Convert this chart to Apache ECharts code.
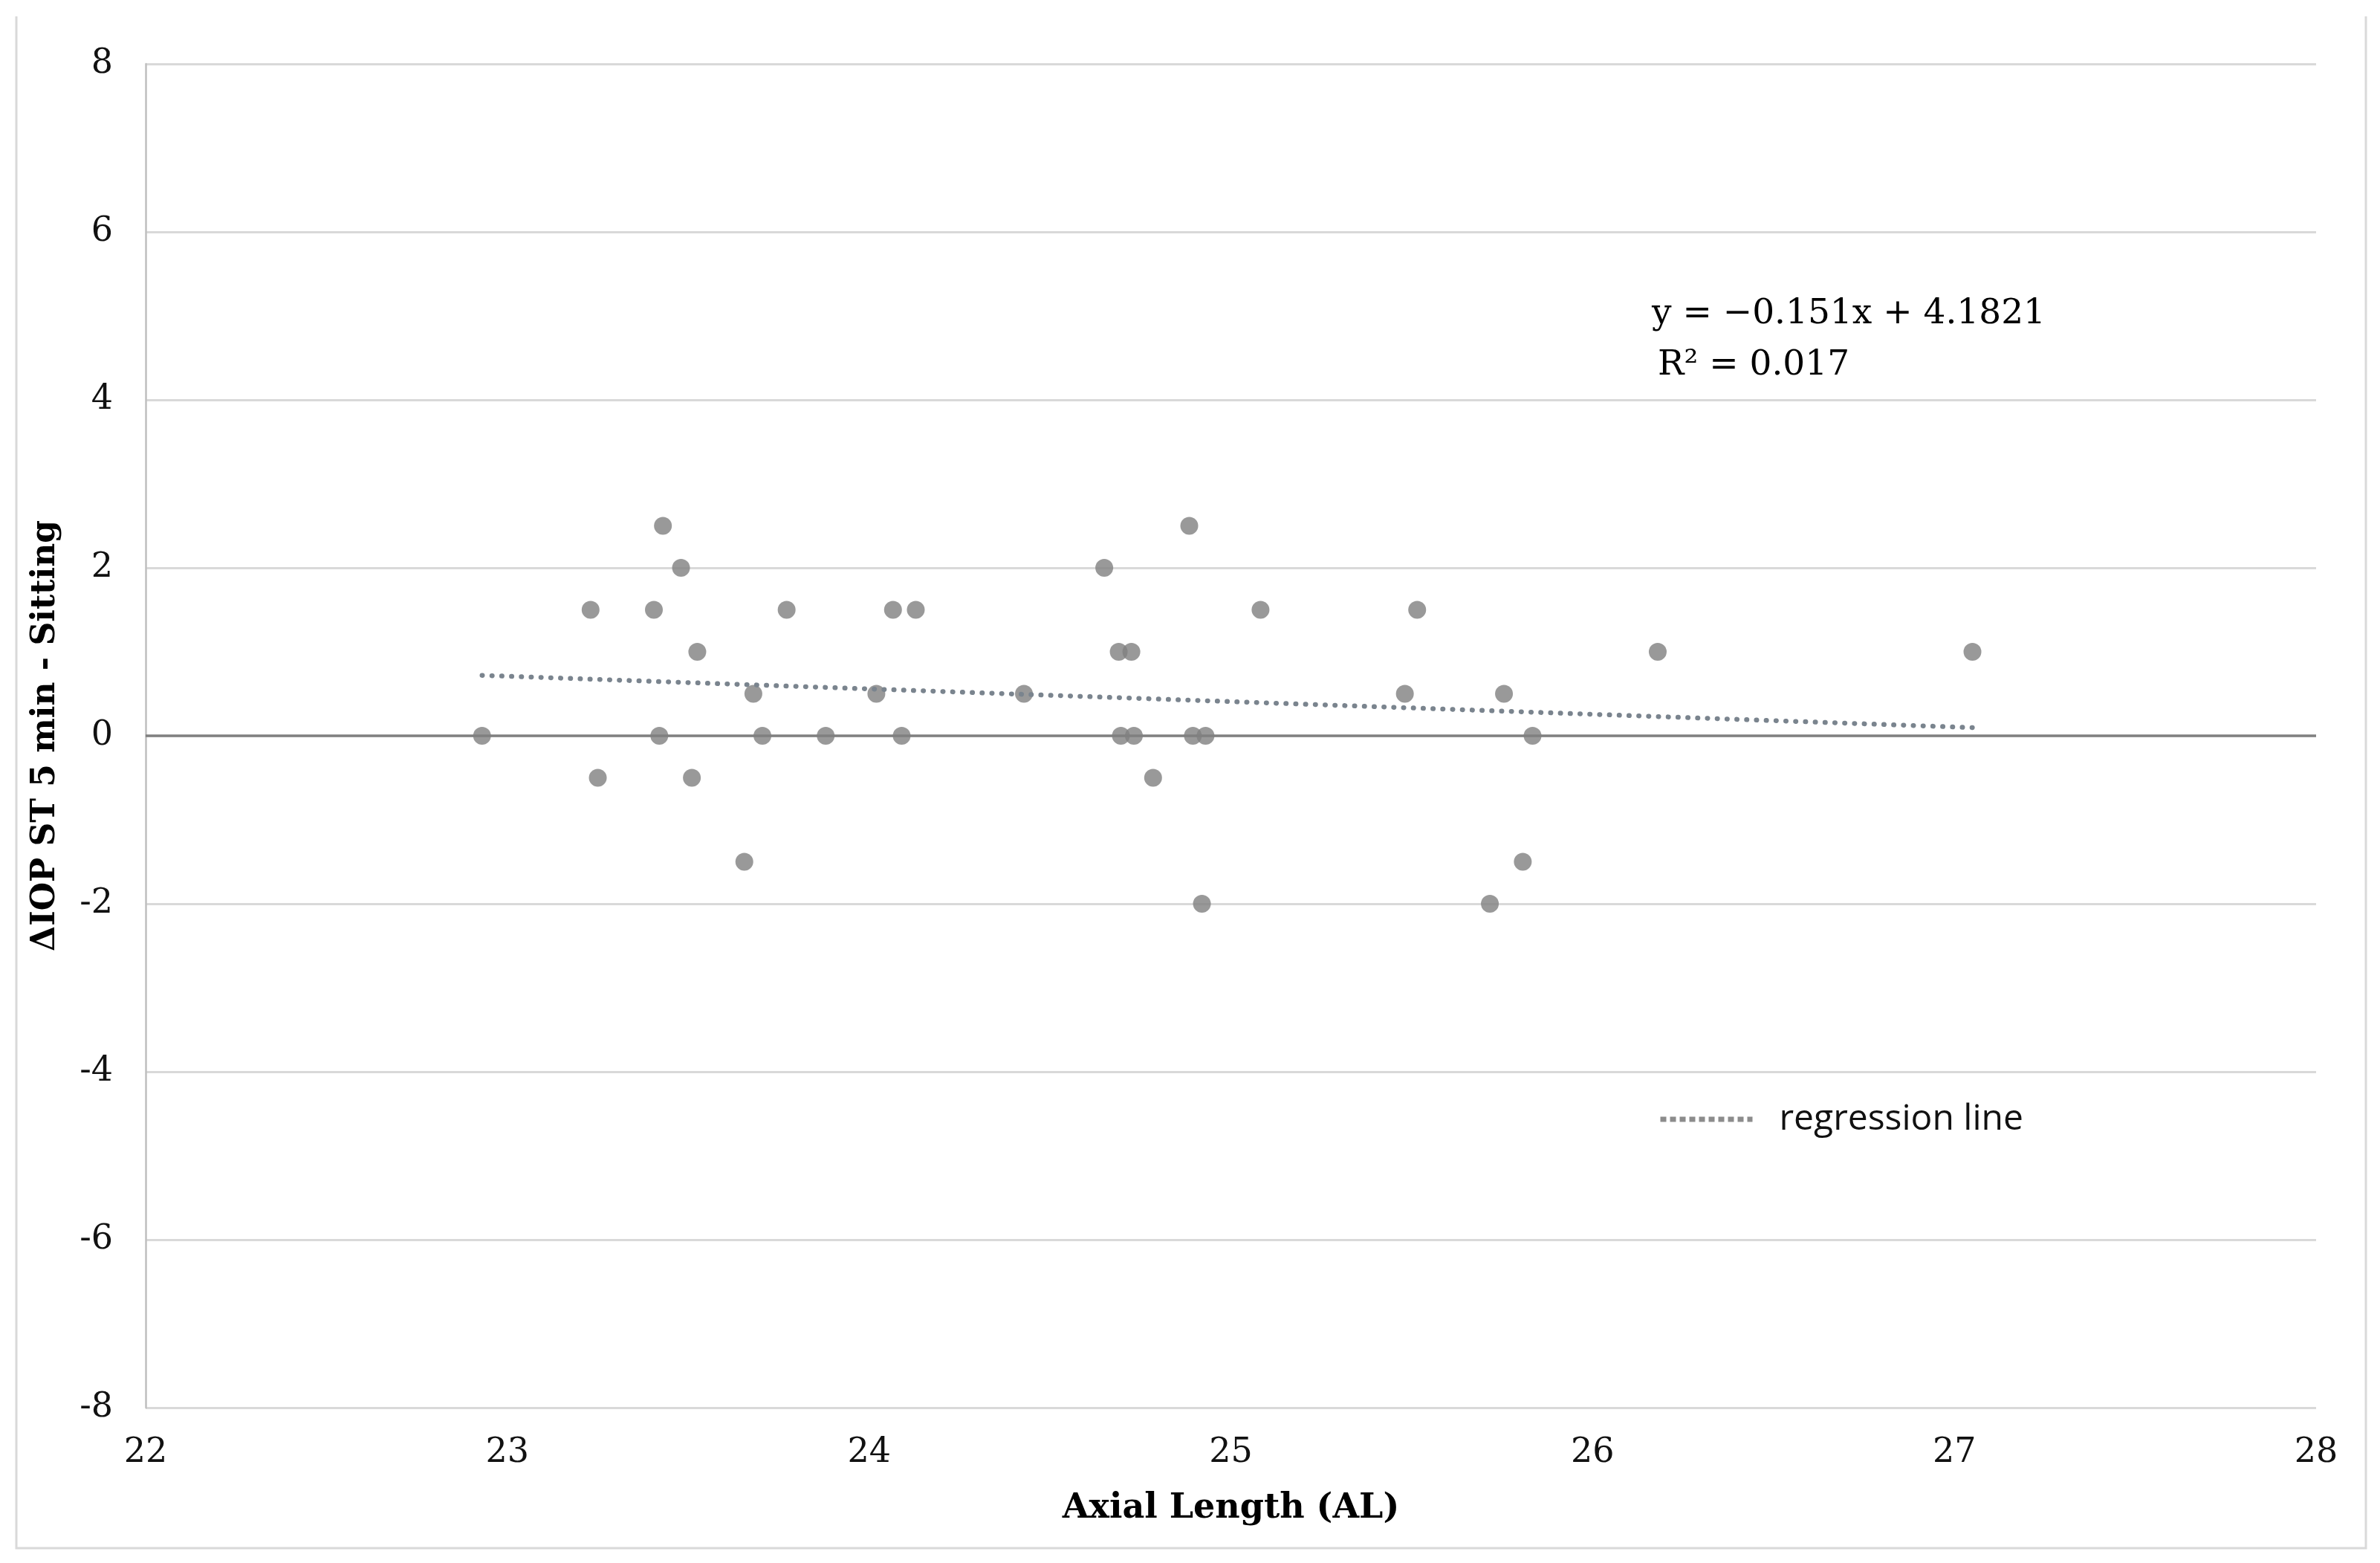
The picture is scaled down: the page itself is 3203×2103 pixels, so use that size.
<!DOCTYPE html>
<html>
<head>
<meta charset="utf-8">
<script src="https://cdn.jsdelivr.net/npm/echarts@6/dist/echarts.min.js"></script>
<style>
html,body{margin:0;padding:0;background:#fff;}
#chart{width:3203px;height:2103px;}
</style>
</head>
<body>
<div id="chart"></div>
<script>
// Axial length (x) values of each eye
const axialLength = [22.93, 23.23, 23.25, 23.405, 23.42, 23.43, 23.48, 23.51, 23.525, 23.655,
  23.68, 23.705, 23.772, 23.88, 24.02, 24.066, 24.09, 24.129, 24.428, 24.65,
  24.69, 24.696, 24.725, 24.732, 24.785, 24.885, 24.895, 24.92, 24.93, 25.082,
  25.481, 25.515, 25.716, 25.755, 25.807, 25.834, 26.18, 27.05];
// ΔIOP ST 5 min - Sitting values
const deltaIOP = [0, 1.5, -0.5, 1.5, 0, 2.5, 2, -0.5, 1, -1.5,
  0.5, 0, 1.5, 0, 0.5, 1.5, 0, 1.5, 0.5, 2,
  1, 0, 1, 0, -0.5, 2.5, 0, -2, 0, 1.5,
  0.5, 1.5, -2, 0.5, -1.5, 0, 1, 1];
// regression as printed on the chart
const slope = -0.151;
const intercept = 4.1821;
const r2 = 0.017;
const equationLabel = 'y = \u22120.151x + 4.1821';
const r2Label = 'R\u00B2 = 0.017';
const legendLabel = 'regression line';
const xTitle = 'Axial Length (AL)';
const yTitle = '\u0394IOP ST 5 min - Sitting';
const xMin = 22, xMax = 28, xStep = 1;
const yMin = -8, yMax = 8, yStep = 2;

const points = axialLength.map((x, i) => [x, deltaIOP[i]]);
const xLo = Math.min(...axialLength), xHi = Math.max(...axialLength);
const regLine = [[xLo, slope * xLo + intercept], [xHi, slope * xHi + intercept]];
const zeroLine = [[xMin, 0], [xMax, 0]];

const chart = echarts.init(document.getElementById('chart'), null, {renderer: 'canvas'});
const serif = '"DejaVu Serif", "Liberation Serif", serif';
chart.setOption({
  animation: false,
  backgroundColor: '#ffffff',
  grid: {left: 196, right: 86, top: 86, bottom: 209, containLabel: false},
  xAxis: {
    type: 'value', min: xMin, max: xMax, interval: xStep,
    axisLine: {show: false}, axisTick: {show: false}, splitLine: {show: false},
    axisLabel: {margin: 38, fontFamily: serif, fontSize: 46, color: '#111'},
    name: xTitle, nameLocation: 'middle', nameGap: 113,
    nameTextStyle: {fontFamily: serif, fontWeight: 'bold', fontSize: 46, color: '#000'}
  },
  yAxis: {
    type: 'value', min: yMin, max: yMax, interval: yStep,
    axisLine: {show: true, lineStyle: {color: '#bfbfbf', width: 2.5}},
    axisTick: {show: false},
    splitLine: {show: true, lineStyle: {color: '#d9d9d9', width: 3}},
    axisLabel: {margin: 44, fontFamily: serif, fontSize: 46, color: '#111'},
    name: yTitle, nameLocation: 'middle', nameGap: 112,
    nameTextStyle: {fontFamily: serif, fontWeight: 'bold', fontSize: 44, color: '#000'}
  },
  legend: {
    data: [legendLabel],
    left: 2231, top: 1482, padding: 0,
    itemWidth: 124, itemHeight: 14,
    itemStyle: {opacity: 0},
    lineStyle: {width: 7, type: [8, 5], cap: 'butt', color: '#8c8c8c'},
    textStyle: {fontFamily: '"Open Sans", sans-serif', fontSize: 48, color: '#111', padding: [0, 0, 0, 31]}
  },
  series: [
    {
      name: 'zero', type: 'line', data: zeroLine, symbol: 'none', z: 1, silent: true,
      lineStyle: {color: '#808080', width: 3.5}
    },
    {
      name: 'data', type: 'scatter', data: points, symbol: 'circle', symbolSize: 24, z: 3,
      itemStyle: {color: '#808080'}
    },
    {
      name: legendLabel, type: 'line', data: regLine, symbol: 'none', z: 4,
      itemStyle: {color: '#7c8690'},
      lineStyle: {color: '#7a848e', width: 6.5, type: [0.5, 12.7], cap: 'round'}
    }
  ],
  graphic: [
    {type: 'text', x: 2223, y: 423, silent: true,
     style: {text: equationLabel, font: '47px ' + serif, fill: '#000', align: 'left', verticalAlign: 'middle'}},
    {type: 'text', x: 2231, y: 492, silent: true,
     style: {text: r2Label, font: '47px ' + serif, fill: '#000', align: 'left', verticalAlign: 'middle'}},
    {type: 'polyline', silent: true,
     shape: {points: [[22, 22], [22, 2083], [3184, 2083], [3184, 22]]},
     style: {stroke: '#d9d9d9', lineWidth: 3, fill: null}}
  ]
});
</script>
</body>
</html>
